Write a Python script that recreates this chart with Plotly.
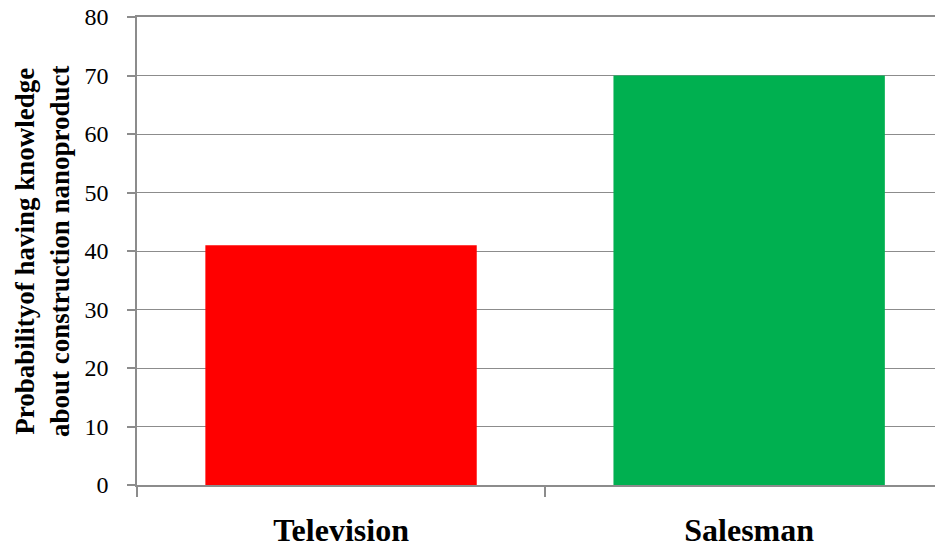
import plotly.graph_objects as go

categories = ["Television", "Salesman"]
values = [41, 70]
bar_colors = ["#FF0000", "#00B050"]
y_ticks = [0, 10, 20, 30, 40, 50, 60, 70, 80]
y_title = "Probabilityof having knowledge<br>about construction nanoproduct"

# the page body adds an 8px offset, so the figure is sized to the remaining window
OFF = 8
W, H = 943 - OFF, 549 - OFF
L, R, T, B = 137 - OFF, 0, 17 - OFF, 64
plot_w = W - L - R

fig = go.Figure(
    go.Bar(
        x=categories,
        y=values,
        marker=dict(color=bar_colors, line=dict(width=0)),
        width=0.665,
    )
)

fig.update_layout(
    width=W,
    height=H,
    margin=dict(l=L, r=R, t=T, b=B, pad=0, autoexpand=False),
    paper_bgcolor="white",
    plot_bgcolor="white",
    showlegend=False,
    font=dict(family="Liberation Serif, Times New Roman, serif", color="black"),
)

fig.update_xaxes(
    range=[-0.5, 1.475],
    tickson="boundaries",
    ticks="outside",
    ticklen=10,
    tickwidth=1.5,
    tickcolor="#8c8c8c",
    showline=True,
    mirror=True,
    linecolor="#8c8c8c",
    linewidth=1.5,
    showgrid=False,
    automargin=False,
    tickfont=dict(size=32, family="Liberation Serif, Times New Roman, serif", weight="bold"),
    ticklabelstandoff=16,
)

fig.update_yaxes(
    range=[0, 80],
    tickvals=y_ticks,
    ticks="outside",
    ticklen=8,
    tickwidth=1.5,
    tickcolor="#8c8c8c",
    showline=True,
    linecolor="#8c8c8c",
    linewidth=1.5,
    showgrid=True,
    gridcolor="#8c8c8c",
    gridwidth=1.2,
    zeroline=False,
    automargin=False,
    tickfont=dict(size=24),
    ticklabelstandoff=14,
    ticklabeloverflow="allow",
)

fig.add_annotation(
    text="<b>" + y_title.replace("<br>", "</b><br><b>") + "</b>",
    xref="paper",
    yref="paper",
    x=-(L - (42 - OFF)) / plot_w,
    y=0.5,
    xanchor="center",
    yanchor="middle",
    textangle=-90,
    showarrow=False,
    align="center",
    font=dict(size=27, color="black"),
)

fig.write_html("out.html")
